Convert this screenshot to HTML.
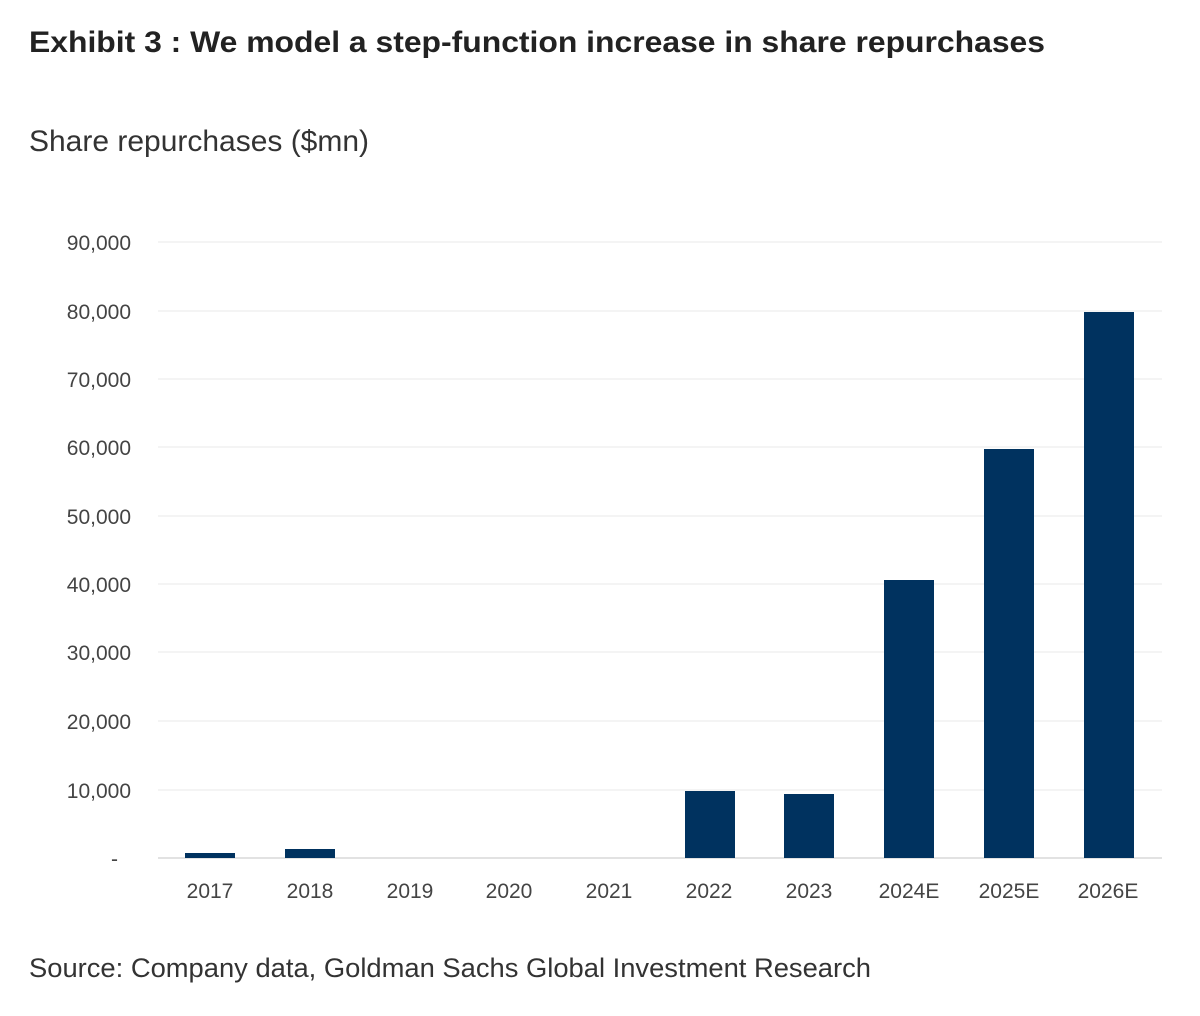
<!DOCTYPE html>
<html><head><style>
html,body{margin:0;padding:0;background:#fff;width:1200px;height:1016px;overflow:hidden}
svg{display:block}
</style></head><body>
<svg width="1200" height="1016" xmlns="http://www.w3.org/2000/svg" font-family="Liberation Sans, sans-serif">
<text x="29" y="52" font-size="30" font-weight="bold" fill="#222" textLength="1016" lengthAdjust="spacingAndGlyphs">Exhibit 3 : We model a step-function increase in share repurchases</text>
<text x="29" y="151" font-size="30" fill="#333" textLength="340" lengthAdjust="spacingAndGlyphs">Share repurchases ($mn)</text>
<g stroke="#f0f0f0" stroke-width="1.5">
<line x1="158" x2="1162" y1="242" y2="242"/><line x1="158" x2="1162" y1="311" y2="311"/>
<line x1="158" x2="1162" y1="379" y2="379"/><line x1="158" x2="1162" y1="447" y2="447"/>
<line x1="158" x2="1162" y1="516" y2="516"/><line x1="158" x2="1162" y1="584" y2="584"/>
<line x1="158" x2="1162" y1="652" y2="652"/><line x1="158" x2="1162" y1="721" y2="721"/>
<line x1="158" x2="1162" y1="790" y2="790"/>
</g>
<line x1="158" x2="1162" y1="858" y2="858" stroke="#d8d8d8" stroke-width="1.5"/>
<g font-size="21" fill="#444" text-anchor="end">
<text x="131" y="250">90,000</text><text x="131" y="319">80,000</text><text x="131" y="387">70,000</text>
<text x="131" y="455">60,000</text><text x="131" y="524">50,000</text><text x="131" y="592">40,000</text>
<text x="131" y="660">30,000</text><text x="131" y="729">20,000</text><text x="131" y="798">10,000</text>
<text x="118" y="866">-</text>
</g>
<g fill="#00325f">
<rect x="185" y="853" width="50" height="5"/>
<rect x="285" y="849" width="50" height="9"/>
<rect x="685" y="791" width="50" height="67"/>
<rect x="784" y="794" width="50" height="64"/>
<rect x="884" y="580" width="50" height="278"/>
<rect x="984" y="449" width="50" height="409"/>
<rect x="1084" y="312" width="50" height="546"/>
</g>
<g font-size="21" fill="#444" text-anchor="middle">
<text x="210" y="898">2017</text><text x="310" y="898">2018</text><text x="410" y="898">2019</text>
<text x="509" y="898">2020</text><text x="609" y="898">2021</text><text x="709" y="898">2022</text>
<text x="809" y="898">2023</text><text x="909" y="898">2024E</text><text x="1009" y="898">2025E</text>
<text x="1108" y="898">2026E</text>
</g>
<text x="29" y="977" font-size="27" fill="#333" textLength="842" lengthAdjust="spacingAndGlyphs">Source: Company data, Goldman Sachs Global Investment Research</text>
</svg>
</body></html>
